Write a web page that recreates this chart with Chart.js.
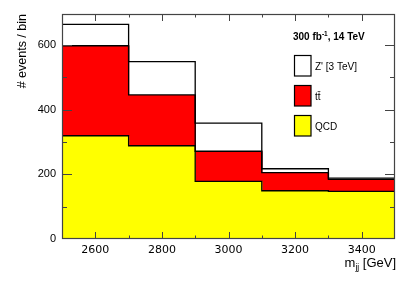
<!DOCTYPE html>
<html>
<head>
<meta charset="utf-8">
<script src="https://cdn.jsdelivr.net/npm/chart.js@4"></script>
<style>
  body { margin: 0; background: #fff; }
</style>
</head>
<body>
<canvas id="myChart" width="416" height="282"></canvas>
<script>
const binEdges = [2500, 2700, 2900, 3100, 3300, 3500];
const xTicks = [2600, 2800, 3000, 3200, 3400];
const yTicks = [0, 200, 400, 600];

const qcd = [319, 288, 178, 149, 147];
const ttbar = [278, 157, 93, 56, 37];
const zprime = [66, 103, 87, 12, 4];

// bin centres for the bars
const centres = binEdges.slice(0, -1).map((e, i) => (e + binEdges[i + 1]) / 2);

// running sums for the outline steps
const qcdTop = qcd.slice();
const ttTop = qcd.map((v, i) => v + ttbar[i]);
const zTop = ttTop.map((v, i) => v + zprime[i]);

function barData(vals) {
  return vals.map((v, i) => ({ x: centres[i], y: v }));
}
function stepData(vals) {
  const pts = vals.map((v, i) => ({ x: binEdges[i], y: v }));
  pts.push({ x: binEdges[binEdges.length - 1], y: vals[vals.length - 1] });
  return pts;
}
function outline(vals, id) {
  return {
    type: 'line',
    data: stepData(vals),
    stepped: 'before',
    borderColor: '#000',
    borderWidth: 1.3,
    pointRadius: 0,
    fill: false,
    stack: id,
    order: 1
  };
}
function bar(label, vals, color) {
  return {
    type: 'bar',
    label: label,
    data: barData(vals),
    backgroundColor: color,
    borderWidth: 0,
    barPercentage: 1.02,
    categoryPercentage: 1,
    stack: 'hist',
    order: 2
  };
}

// frame, inward ticks, legend, x title
const rootStyle = {
  id: 'rootStyle',
  afterDatasetsDraw(chart) {
    const ctx = chart.ctx;
    const a = chart.chartArea;
    const xs = chart.scales.x, ys = chart.scales.y;
    ctx.save();
    ctx.strokeStyle = '#444';
    ctx.lineWidth = 1;
    // x ticks
    for (let v = 2600; v < 3500; v += 100) {
      const px = Math.round(xs.getPixelForValue(v)) + 0.5;
      const len = (v - 2600) % 200 === 0 ? 7 : 3.5;
      ctx.beginPath();
      ctx.moveTo(px, a.bottom); ctx.lineTo(px, a.bottom - len);
      ctx.moveTo(px, a.top); ctx.lineTo(px, a.top + len);
      ctx.stroke();
    }
    // y ticks
    for (let v = 100; v < ys.max; v += 100) {
      const py = Math.round(ys.getPixelForValue(v)) + 0.5;
      const len = v % 200 === 0 ? 10 : 5;
      ctx.beginPath();
      ctx.moveTo(a.left, py); ctx.lineTo(a.left + len, py);
      ctx.moveTo(a.right, py); ctx.lineTo(a.right - len, py);
      ctx.stroke();
    }
    ctx.lineWidth = 1.2;
    ctx.strokeRect(a.left + 0.5, a.top + 0.5, a.right - a.left - 1, a.bottom - a.top - 1);

    // legend
    ctx.fillStyle = '#000';
    ctx.textBaseline = 'alphabetic';
    ctx.font = 'bold 10px "Liberation Sans", Arial, sans-serif';
    let tx = 293;
    ctx.fillText('300 fb', tx, 40);
    tx += ctx.measureText('300 fb').width;
    ctx.font = 'bold 6.5px "Liberation Sans", Arial, sans-serif';
    ctx.fillText('-1', tx, 36);
    tx += ctx.measureText('-1').width;
    ctx.font = 'bold 10px "Liberation Sans", Arial, sans-serif';
    ctx.fillText(', 14 TeV', tx, 40);

    const entries = [['Z\' [3 TeV]', '#ffffff', 55], ['tt\u0304', '#ff0000', 85], ['QCD', '#ffff00', 115]];
    ctx.font = '10px "Liberation Sans", Arial, sans-serif';
    ctx.lineWidth = 1.2;
    ctx.strokeStyle = '#000';
    entries.forEach(([txt, col, y]) => {
      ctx.fillStyle = col;
      ctx.fillRect(294.5, y + 0.5, 16.5, 20.5);
      ctx.strokeRect(294.5, y + 0.5, 16.5, 20.5);
      ctx.fillStyle = '#000';
      ctx.fillText(txt, 315, y + 15);
    });

    // x title with subscript
    ctx.textAlign = 'right';
    ctx.font = '13px "Liberation Sans", Arial, sans-serif';
    const rest = ' [GeV]';
    const rw = ctx.measureText(rest).width;
    ctx.fillText(rest, 396, 267);
    ctx.font = '8.5px "Liberation Sans", Arial, sans-serif';
    const sw = ctx.measureText('jj').width;
    ctx.fillText('jj', 396 - rw, 270);
    ctx.font = '13px "Liberation Sans", Arial, sans-serif';
    ctx.fillText('m', 396 - rw - sw, 267);
    ctx.restore();
  }
};

const config = {
  data: {
    datasets: [
      bar('QCD', qcd, '#ffff00'),
      bar('tt', ttbar, '#ff0000'),
      bar('Z\' [3 TeV]', zprime, '#ffffff'),
      outline(qcdTop, 'l1'),
      outline(ttTop, 'l2'),
      outline(zTop, 'l3')
    ]
  },
  options: {
    responsive: false,
    animation: false,
    layout: { padding: { left: 0, top: 14, right: 21, bottom: 0 } },
    plugins: { legend: { display: false }, tooltip: { enabled: false } },
    scales: {
      x: {
        type: 'linear',
        min: 2500,
        max: 3500,
        offset: false,
        stacked: true,
        grid: { display: false, drawTicks: false, offset: false },
        border: { display: false },
        afterBuildTicks: s => { s.ticks = xTicks.map(v => ({ value: v })); },
        afterFit: s => { s.height = 43; },
        ticks: {
          padding: 5,
          color: '#000',
          font: { family: '"DejaVu Sans", sans-serif', size: 11 },
          callback: v => String(v)
        }
      },
      y: {
        min: 0,
        max: 695,
        stacked: true,
        grid: { display: false, drawTicks: false },
        border: { display: false },
        afterBuildTicks: s => { s.ticks = yTicks.map(v => ({ value: v })); },
        afterFit: s => { s.width = 62; },
        ticks: {
          padding: 6,
          color: '#000',
          font: { family: '"Liberation Sans", Arial, sans-serif', size: 11 }
        },
        title: {
          display: true,
          text: '# events / bin',
          align: 'end',
          color: '#000',
          padding: { top: 15, bottom: 0 },
          font: { family: '"Liberation Sans", Arial, sans-serif', size: 12.5 }
        }
      }
    }
  },
  plugins: [rootStyle]
};

const myChart = new Chart(document.getElementById('myChart'), config);
</script>
</body>
</html>
